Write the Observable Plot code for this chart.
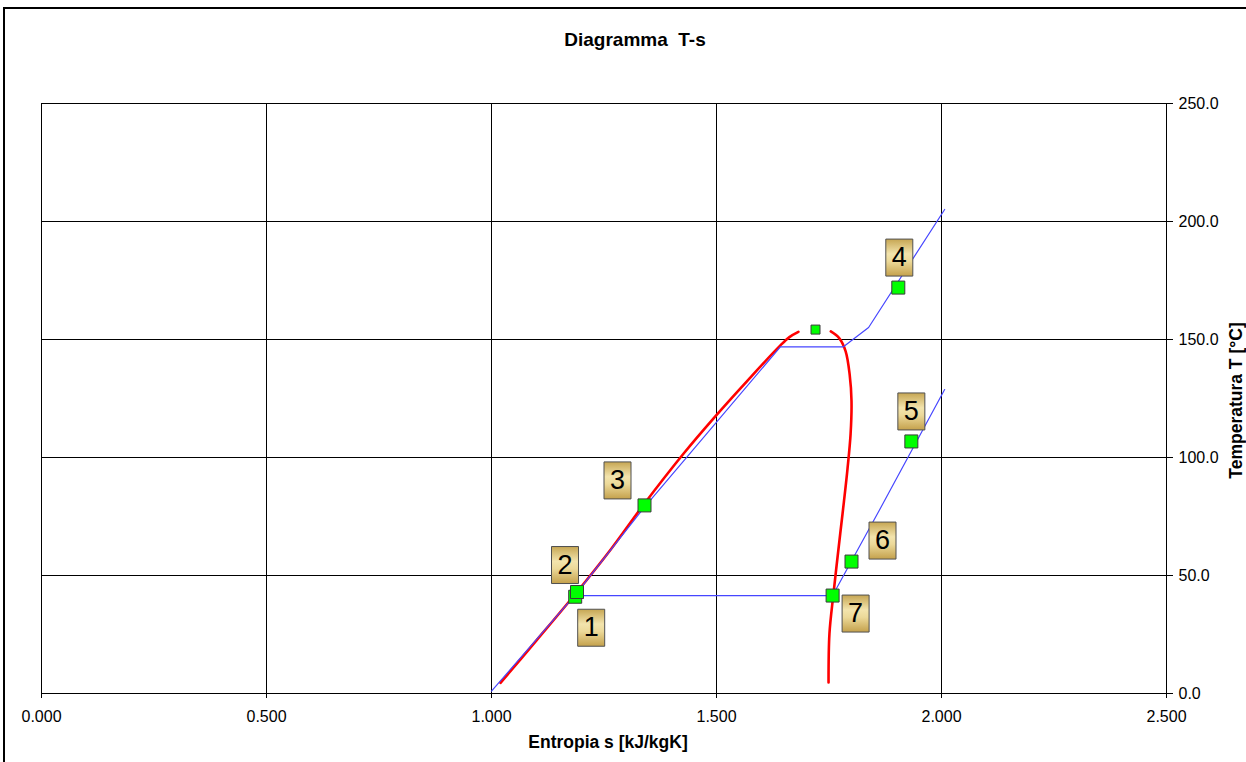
<!DOCTYPE html>
<html><head><meta charset="utf-8">
<script src="https://cdn.jsdelivr.net/npm/d3@7"></script>
<script src="https://cdn.jsdelivr.net/npm/@observablehq/plot@0.6"></script>
<style>
html,body{margin:0;padding:0;background:#fff;overflow:hidden}
#frame{position:absolute;left:3px;top:7px;width:1300px;height:800px;border:2px solid #000;box-sizing:border-box}
#chart{position:absolute;left:0;top:0}
#defs{position:absolute;width:0;height:0}
</style></head><body>
<svg id="defs" width="0" height="0"><defs>
<linearGradient id="gold" x1="0" y1="0" x2="0" y2="1">
<stop offset="0" stop-color="#c6a653"/>
<stop offset="0.4" stop-color="#f3e4ad"/>
<stop offset="0.6" stop-color="#ecd999"/>
<stop offset="1" stop-color="#c4a14c"/>
</linearGradient></defs></svg>
<div id="frame"></div><div id="chart"></div>
<script>
// ---- data ----
const xTicks = [0, 0.5, 1.0, 1.5, 2.0, 2.5];
const yTicks = [0, 50, 100, 150, 200, 250];

// saturation dome (red)
const satLiquidS = [1.020, 1.100, 1.190, 1.265, 1.338, 1.427, 1.493, 1.569, 1.642, 1.662, 1.682];
const satLiquidT = [4.5, 22.5, 43.0, 61.0, 80.0, 101.7, 116.5, 132.6, 147.5, 151.0, 153.2];
const satVaporS = [1.754, 1.773, 1.787, 1.796, 1.800, 1.798, 1.791, 1.783, 1.775, 1.760, 1.751, 1.749];
const satVaporT = [153.4, 150.5, 145.0, 135.0, 124.0, 110.0, 95.0, 81.0, 67.8, 42.4, 25.4, 4.7];

// isobars (blue)
const highIsobarS = [1.000, 1.187, 1.340, 1.642, 1.782, 1.838, 2.007];
const highIsobarT = [1.0, 42.0, 79.0, 146.9, 146.9, 155.1, 205.1];
const lowIsobarS = [1.190, 1.758, 1.864, 2.007];
const lowIsobarT = [41.5, 41.5, 78.4, 128.8];

// cycle points
const pointLabels = ["1", "2", "3", "4", "5", "6", "7"];
const pointS = [1.186, 1.190, 1.340, 1.904, 1.933, 1.800, 1.758];
const pointT = [41.0, 43.0, 79.7, 172.0, 106.8, 55.9, 41.5];
const criticalS = [1.720];
const criticalT = [154.2];

const titleText = "Diagramma\u00a0\u00a0T-s";
const xLabel = "Entropia s [kJ/kgK]";
const yLabel = "Temperatura T [°C]";

// ---- layout (pixel offsets of the numbered boxes) ----
const labelDx = [16, -12, -27, 1, 0, 31, 23];
const labelDy = [31, -27, -25, -30, -30, -21, 18];

const zip = (xs, ys) => xs.map((x, i) => ({s: x, T: ys[i]}));
const rectSym = (w, h) => ({draw(ctx) { ctx.rect(-w / 2, -h / 2, w, h); }});

const points = pointLabels.map((l, i) => ({label: l, s: pointS[i], T: pointT[i], i}));

const labelMarks = points.flatMap(p => [
  Plot.dot([p], {x: "s", y: "T", dx: labelDx[p.i], dy: labelDy[p.i], symbol: rectSym(27, 37),
    fill: "url(#gold)", stroke: "#505050", strokeWidth: 1}),
  Plot.text([p], {x: "s", y: "T", text: "label", dx: labelDx[p.i], dy: labelDy[p.i],
    fontSize: 27, fill: "#000"})
]);

const chart = Plot.plot({
  width: 1246, height: 762,
  marginLeft: 41, marginRight: 80, marginTop: 103, marginBottom: 69,
  style: {fontFamily: "'Liberation Sans', Arial, sans-serif", fontSize: "16px", color: "#000", background: "transparent", overflow: "visible"},
  x: {domain: [0, 2.5]},
  y: {domain: [0, 250]},
  marks: [
    Plot.gridX(xTicks, {stroke: "#000", strokeOpacity: 1, strokeWidth: 1}),
    Plot.gridY(yTicks, {stroke: "#000", strokeOpacity: 1, strokeWidth: 1}),
    Plot.axisX(xTicks, {tickFormat: d3.format(".3f"), tickSize: 5, tickPadding: 12, label: null, stroke: "#000"}),
    Plot.axisY(yTicks, {anchor: "right", tickFormat: d3.format(".1f"), tickSize: 6, tickPadding: 6, label: null, stroke: "#000"}),
    Plot.line(zip(satLiquidS, satLiquidT), {x: "s", y: "T", stroke: "#ff0000", strokeWidth: 2.6, curve: "catmull-rom"}),
    Plot.line(zip(satVaporS, satVaporT), {x: "s", y: "T", stroke: "#ff0000", strokeWidth: 2.6, curve: "catmull-rom"}),
    Plot.line(zip(highIsobarS, highIsobarT), {x: "s", y: "T", stroke: "#4646ff", strokeWidth: 1.2}),
    Plot.line(zip(lowIsobarS, lowIsobarT), {x: "s", y: "T", stroke: "#4646ff", strokeWidth: 1.2}),
    Plot.dot(points, {x: "s", y: "T", symbol: rectSym(13, 13), fill: "#00ff00", stroke: "#3a3a3a", strokeWidth: 1}),
    Plot.dot(zip(criticalS, criticalT), {x: "s", y: "T", symbol: rectSym(9, 9), fill: "#00ff00", stroke: "#3a3a3a", strokeWidth: 1}),
    ...labelMarks,
    Plot.text([titleText], {frameAnchor: "top", dx: 31, dy: -71, fontSize: 19, fontWeight: "bold", fill: "#000"}),
    Plot.text([xLabel], {frameAnchor: "bottom", dx: 4, dy: 54, fontSize: 17.5, fontWeight: "bold", fill: "#000"}),
    Plot.text([yLabel], {frameAnchor: "right", textAnchor: "middle", dx: 70, dy: 2, rotate: -90, fontSize: 17.5, fontWeight: "bold", fill: "#000"})
  ]
});
document.getElementById("chart").appendChild(chart);
</script></body></html>
